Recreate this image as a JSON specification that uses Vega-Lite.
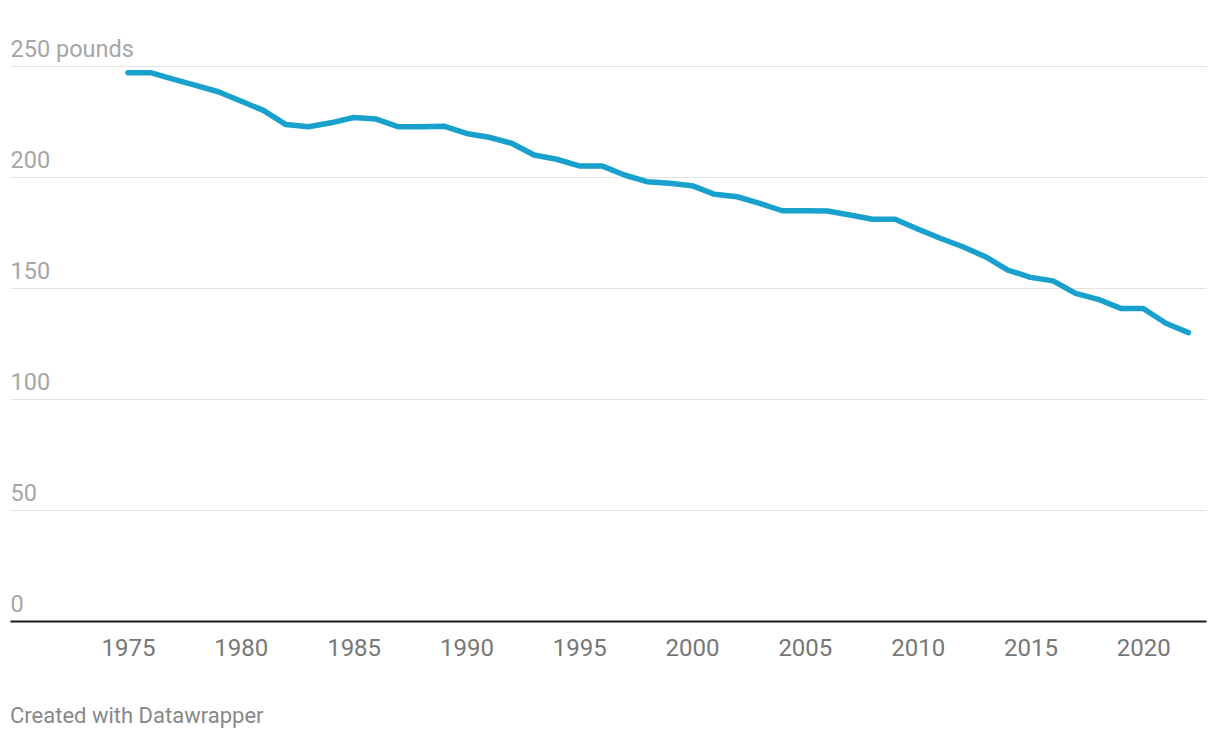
{
  "$schema": "https://vega.github.io/schema/vega-lite/v6.json",
  "width": 1196,
  "height": 555,
  "autosize": {"type": "none"},
  "padding": {"left": 10, "top": 66, "right": 14, "bottom": 117},
  "background": "#ffffff",
  "title": {
    "text": "Created with Datawrapper",
    "orient": "bottom",
    "anchor": "start",
    "font": "Roboto",
    "fontSize": 22,
    "fontWeight": "normal",
    "color": "#888888",
    "offset": 46
  },
  "data": {
    "values": [
      {"year": 1975, "pounds": 247.0},
      {"year": 1976, "pounds": 247.0},
      {"year": 1977, "pounds": 244.1},
      {"year": 1978, "pounds": 241.3},
      {"year": 1979, "pounds": 238.4},
      {"year": 1980, "pounds": 234.2},
      {"year": 1981, "pounds": 230.0},
      {"year": 1982, "pounds": 223.6},
      {"year": 1983, "pounds": 222.6},
      {"year": 1984, "pounds": 224.4},
      {"year": 1985, "pounds": 226.8},
      {"year": 1986, "pounds": 226.1},
      {"year": 1987, "pounds": 222.6},
      {"year": 1988, "pounds": 222.6},
      {"year": 1989, "pounds": 222.9},
      {"year": 1990, "pounds": 219.6},
      {"year": 1991, "pounds": 217.9},
      {"year": 1992, "pounds": 215.2},
      {"year": 1993, "pounds": 209.9},
      {"year": 1994, "pounds": 208.0},
      {"year": 1995, "pounds": 205.0},
      {"year": 1996, "pounds": 205.0},
      {"year": 1997, "pounds": 200.9},
      {"year": 1998, "pounds": 197.9},
      {"year": 1999, "pounds": 197.2},
      {"year": 2000, "pounds": 196.1},
      {"year": 2001, "pounds": 192.2},
      {"year": 2002, "pounds": 191.1},
      {"year": 2003, "pounds": 188.1},
      {"year": 2004, "pounds": 184.8},
      {"year": 2005, "pounds": 184.8},
      {"year": 2006, "pounds": 184.7},
      {"year": 2007, "pounds": 182.9},
      {"year": 2008, "pounds": 181.0},
      {"year": 2009, "pounds": 181.0},
      {"year": 2010, "pounds": 176.6},
      {"year": 2011, "pounds": 172.4},
      {"year": 2012, "pounds": 168.6},
      {"year": 2013, "pounds": 164.1},
      {"year": 2014, "pounds": 158.1},
      {"year": 2015, "pounds": 154.8},
      {"year": 2016, "pounds": 153.2},
      {"year": 2017, "pounds": 147.6},
      {"year": 2018, "pounds": 144.9},
      {"year": 2019, "pounds": 140.8},
      {"year": 2020, "pounds": 140.8},
      {"year": 2021, "pounds": 134.1},
      {"year": 2022, "pounds": 129.9}
    ]
  },
  "mark": {"type": "line", "color": "#18a1cd", "strokeWidth": 5.5, "strokeCap": "round", "strokeJoin": "round"},
  "encoding": {
    "x": {
      "field": "year",
      "type": "quantitative",
      "scale": {"domain": [1969.77, 2022.78], "nice": false, "zero": false},
      "axis": {
        "title": null,
        "values": [1975, 1980, 1985, 1990, 1995, 2000, 2005, 2010, 2015, 2020],
        "format": "d",
        "grid": false,
        "ticks": false,
        "tickSize": 0,
        "domain": true,
        "domainColor": "#1a1a1a",
        "domainWidth": 2,
        "labelFont": "Roboto",
        "labelFontSize": 24,
        "labelColor": "#777777",
        "labelPadding": 15,
        "labelFlush": false
      }
    },
    "y": {
      "field": "pounds",
      "type": "quantitative",
      "scale": {"domain": [0, 250], "nice": false},
      "axis": {
        "title": null,
        "values": [0, 50, 100, 150, 200, 250],
        "labelExpr": "datum.value == 250 ? '250 pounds' : datum.label",
        "domain": false,
        "ticks": false,
        "tickSize": 0,
        "grid": true,
        "gridColor": "#e3e3e3",
        "gridWidth": 1,
        "labelAlign": "left",
        "labelBaseline": "alphabetic",
        "labelPadding": 0,
        "labelOffset": -9.5,
        "labelFont": "Roboto",
        "labelFontSize": 23.5,
        "labelColor": "#a6a6a6",
        "labelFlush": false
      }
    }
  },
  "config": {"view": {"stroke": null}}
}
